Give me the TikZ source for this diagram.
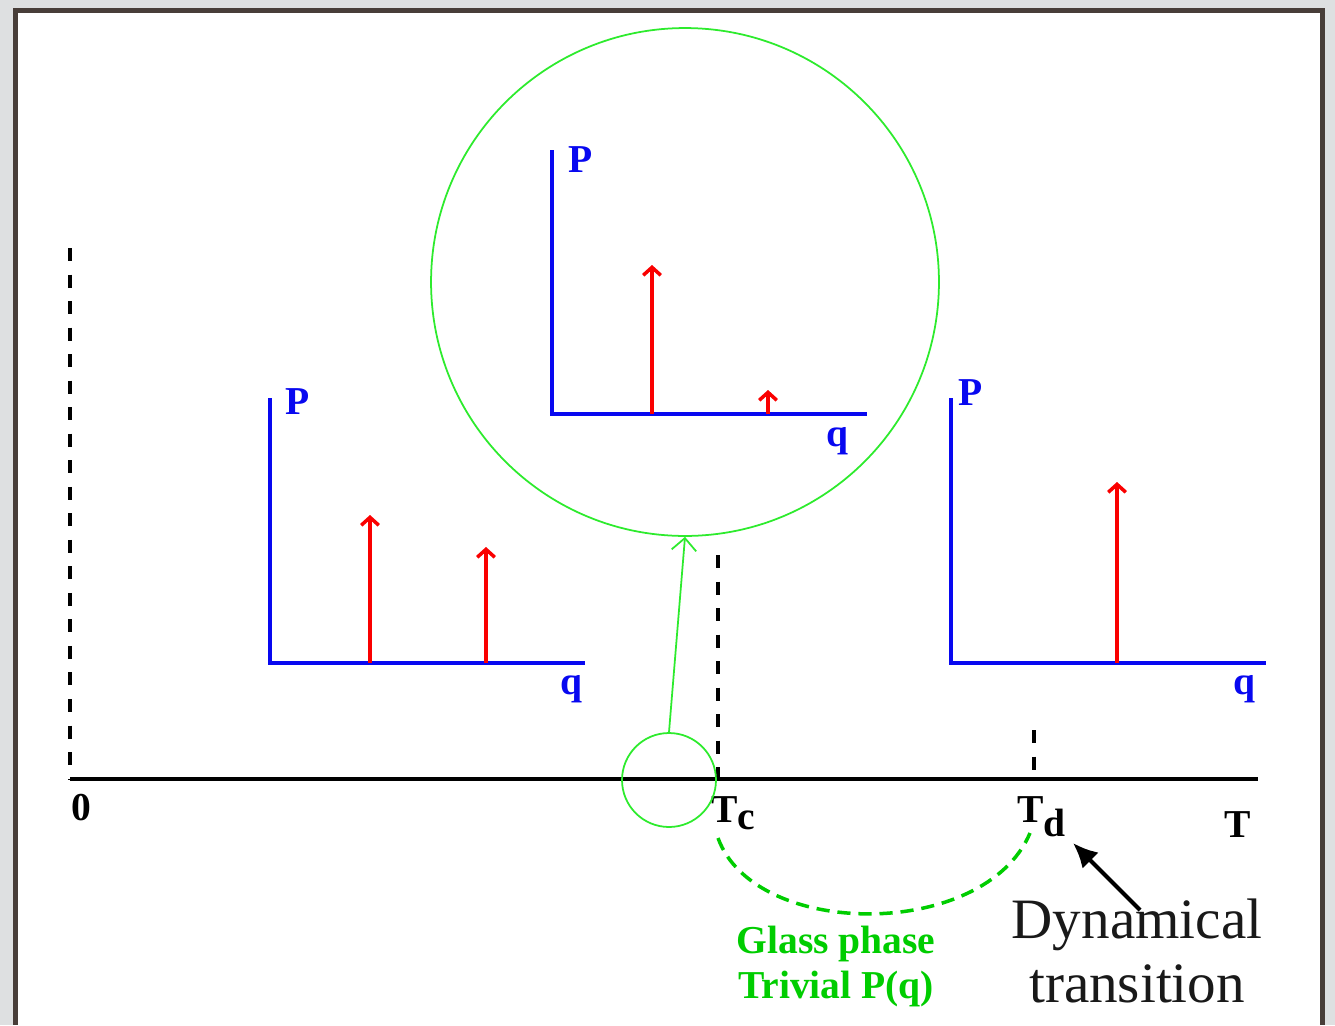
\documentclass[tikz,border=0pt]{standalone}
\usepackage{fontspec}
\setmainfont{Liberation Serif}
\usetikzlibrary{positioning,arrows.meta,calc}
\definecolor{paperC}{RGB}{222,224,225}
\definecolor{frameC}{RGB}{72,62,57}
\definecolor{plotC}{RGB}{8,8,240}
\definecolor{peakC}{RGB}{250,0,0}
\definecolor{ringC}{RGB}{45,235,45}
\definecolor{glassC}{RGB}{0,205,0}
\definecolor{noteC}{RGB}{25,25,25}
\tikzset{
	axisline/.style={plotC, line width=2pt},
	peak/.style={-{Straight Barb[length=4.5pt,width=10pt]}, peakC, line width=2pt},
	tline/.style={black, line width=2pt},
	guide/.style={black, line width=2pt, dash pattern=on 7.4pt off 7.7pt},
	ring/.style={circle, draw=ringC, line width=1pt, inner sep=0pt},
	zoomlink/.style={-{Straight Barb[length=7pt,width=14pt]}, ringC, line width=1pt},
	glassarc/.style={glassC, line width=2pt, dash pattern=on 7.5pt off 4.5pt},
	lbl/.style={inner sep=0pt, font=\fontsize{22.5}{25.5}\selectfont\bfseries},
	plotlbl/.style={lbl, text=plotC},
	note/.style={align=center, inner sep=0pt, text=noteC,
		font=\fontsize{32.5}{36}\selectfont},
	pointer/.style={-{Latex[length=14pt,width=13pt]}, black, line width=2.4pt},
}

\begin{document}
\begin{tikzpicture}[x=0.02cm, y=-0.02cm]
		\useasboundingbox (0,0) rectangle (1335,1025);
		
		% =============== SLIDE FRAME ===============
		\fill[paperC] (0,0) rectangle (1335,1025);
		\fill[frameC] (13,8) rectangle (1325,1025);
		\fill[white] (18,13) rectangle (1320,1025);
		
		% =============== TEMPERATURE AXIS ===============
		\coordinate (t0)   at (70,779);
		\coordinate (tend) at (1258,779);
		\coordinate (tc)   at (718,779);
		\coordinate (td)   at (1034,779);
		\coordinate (g0)   at (70,248);
		\coordinate (gc)   at (718,555);
		\coordinate (gd)   at (1034,730);
		
		\draw[tline] (t0) -- (tend);
		\draw[guide] (g0) -- (t0);
		\draw[guide] (gc) -- (tc);
		\draw[guide] (gd) -- (td);
		
		\node[lbl] (zero) at (81,808) {0};
		\node[lbl, anchor=base west] (tclbl) at (711,822) {T\raisebox{-4.5pt}{c}};
		\node[lbl, anchor=base west] (tdlbl) at (1017,822) {T\raisebox{-8.5pt}{d}};
		\node[lbl] (tlbl) at (1238,825) {T};
		
		% =============== P(q) BELOW Tc (left) ===============
		\coordinate (Ltop) at (270,398);
		\coordinate (Lend) at (585,663);
		\draw[axisline] (Ltop) |- (Lend);
		\node[plotlbl] (LP) at (298,402) {P};
		\node[plotlbl] (Lq) at (571,689) {q};
		
		\coordinate (La) at (370,663);
		\coordinate (Lat) at (370,515);
		\coordinate (Lb) at (486,663);
		\coordinate (Lbt) at (486,547);
		\draw[peak] (La) -- (Lat);
		\draw[peak] (Lb) -- (Lbt);
		
		% =============== P(q) JUST BELOW Tc (zoom) ===============
		\coordinate (Mtop) at (552,150);
		\coordinate (Mend) at (867,414);
		\draw[axisline] (Mtop) |- (Mend);
		\node[plotlbl] (MP) at (581,160) {P};
		\node[plotlbl] (Mq) at (837,441) {q};
		
		\coordinate (Ma) at (652,414);
		\coordinate (Mat) at (652,265);
		\coordinate (Mb) at (768,414);
		\coordinate (Mbt) at (768,390);
		\draw[peak] (Ma) -- (Mat);
		\draw[peak] (Mb) -- (Mbt);
		
		% =============== P(q) ABOVE Tc (right) ===============
		\coordinate (Rtop) at (951,398);
		\coordinate (Rend) at (1266,663);
		\draw[axisline] (Rtop) |- (Rend);
		\node[plotlbl] (RP) at (971,393) {P};
		\node[plotlbl] (Rq) at (1244,689) {q};
		
		\coordinate (Ra) at (1117,663);
		\coordinate (Rat) at (1117,482);
		\draw[peak] (Ra) -- (Rat);
		
		% =============== ZOOM RINGS ===============
		\node[ring, minimum size=10.16cm] (bigring) at (685,282) {};
		\node[ring, minimum size=1.88cm] (smallring) at (669,780) {};
		\draw[zoomlink] (smallring.north) -- (bigring.south);
		
		% =============== GLASS PHASE Tc..Td ===============
		\coordinate (arcA) at (718,838);
		\coordinate (arcB) at (1030,833);
		\draw[glassarc] (arcA) .. controls (755,940) and (985,940) .. (arcB);
		\node[lbl, text=glassC, align=center, anchor=north] (glass) at (836,926)
		{Glass phase\\Trivial P(q)};
		
		% =============== ANNOTATION: Td ===============
		\node[note] (dyn) at (1137,951) {Dynamical\\transition};
		\coordinate (ptail) at (1140,910);
		\coordinate (phead) at (1073,843);
		\draw[pointer] (ptail) -- (phead);
		
	\end{tikzpicture}
\end{document}
